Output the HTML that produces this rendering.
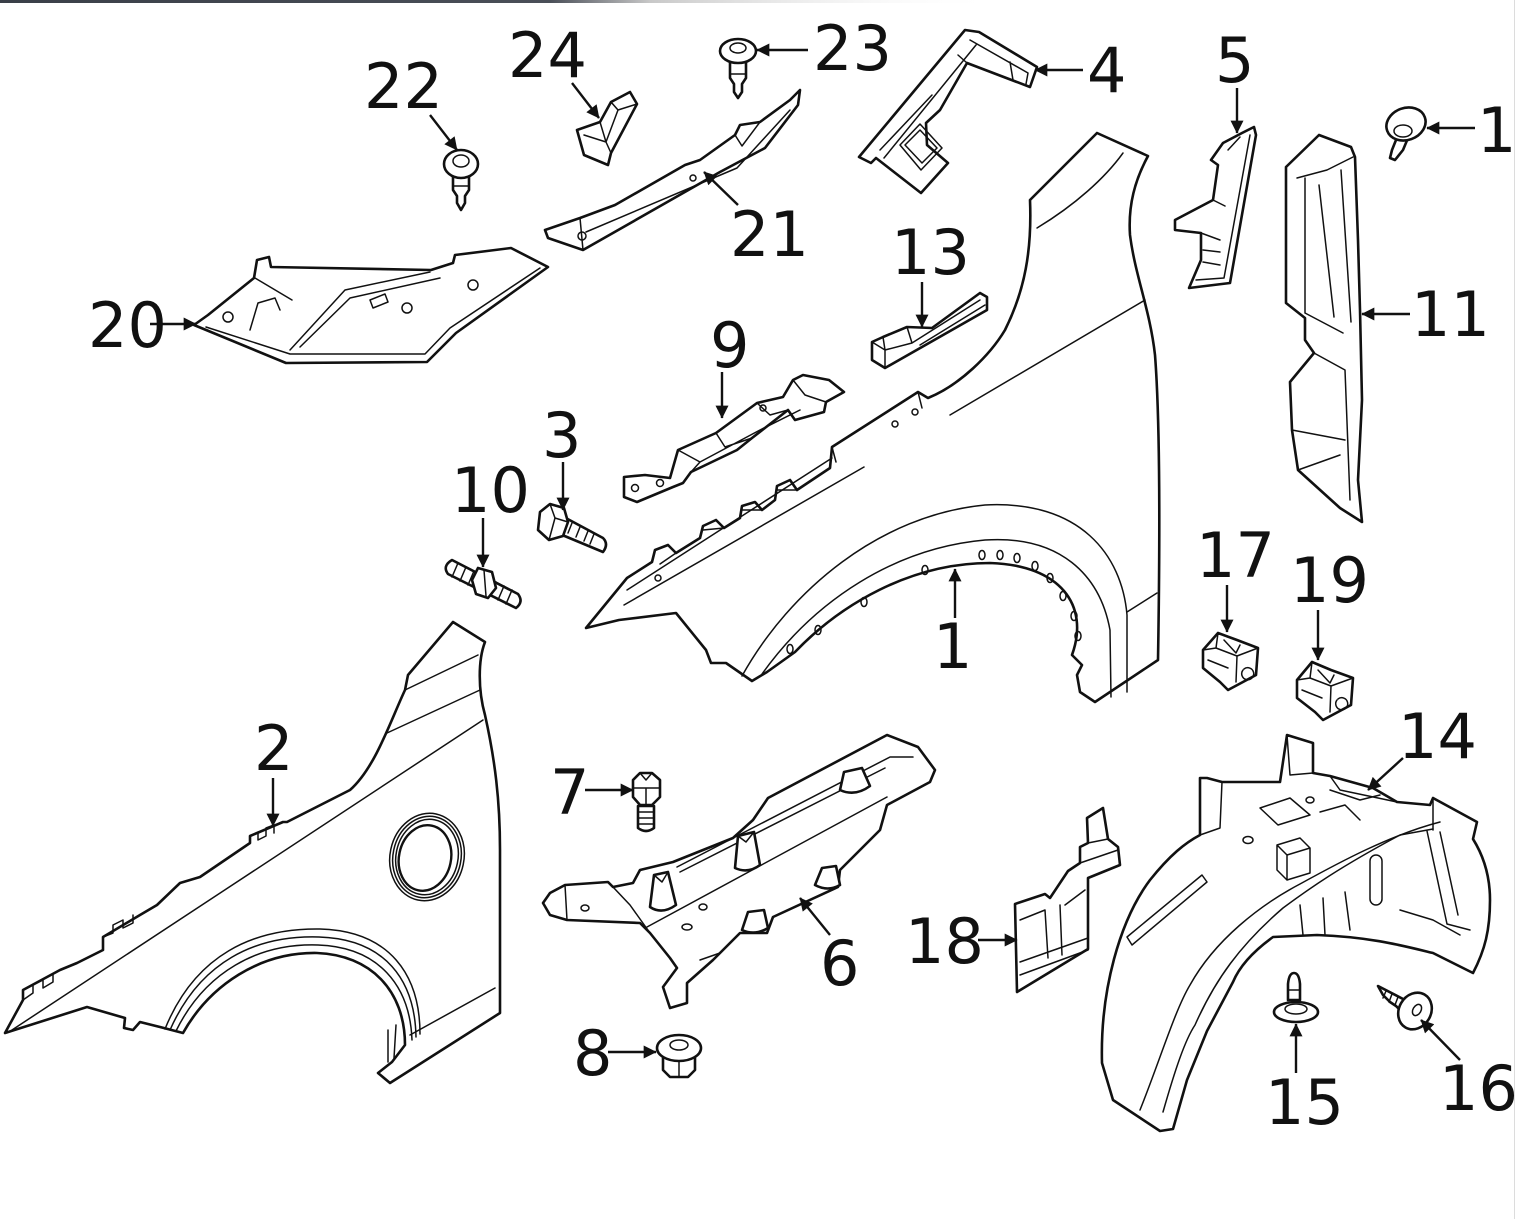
<!DOCTYPE html>
<html>
<head>
<meta charset="utf-8">
<style>
html,body{margin:0;padding:0;background:#fff;}
body{width:1516px;height:1219px;overflow:hidden;position:relative;}
svg{position:absolute;left:0;top:0;}
.o{fill:#fff;stroke:#111;stroke-width:2.6;stroke-linejoin:round;stroke-linecap:round;}
.t{fill:none;stroke:#111;stroke-width:1.5;stroke-linejoin:round;stroke-linecap:round;}
.n{fill:none;stroke:#111;stroke-width:2.4;stroke-linejoin:round;stroke-linecap:round;}
.a{stroke:#111;stroke-width:2.4;fill:none;}
text{font-family:"DejaVu Sans","Liberation Sans",sans-serif;font-size:62px;fill:#111;}
</style>
</head>
<body>
<svg width="1516" height="1219" viewBox="0 0 1516 1219" xmlns="http://www.w3.org/2000/svg">
<defs>
<linearGradient id="tb" x1="0" x2="1" y1="0" y2="0">
<stop offset="0" stop-color="#3a3f48"/>
<stop offset="0.55" stop-color="#4a4f58"/>
<stop offset="0.65" stop-color="#c8c8c8"/>
<stop offset="1" stop-color="#ffffff" stop-opacity="0"/>
</linearGradient>
<marker id="ah" viewBox="0 0 10 10" refX="9.5" refY="5" markerUnits="userSpaceOnUse" markerWidth="15" markerHeight="13" orient="auto">
<path d="M0,0 L10,5 L0,10 z" fill="#111"/>
</marker>
</defs>
<rect x="0" y="0" width="1516" height="1219" fill="#fff"/>
<rect x="0" y="0" width="1000" height="3" fill="url(#tb)"/>
<line x1="1514.5" y1="0" x2="1514.5" y2="1219" stroke="#dcdcdc" stroke-width="1"/>

<!-- PART 20 -->
<path class="o" d="M194,325 L208,315 L254,278 L257,260 L269,257 L271,267 L431,270 L453,263 L455,255 L511,248 L548,267 L456,333 L427,362 L286,363 Z"/>
<path class="t" d="M206,327 L290,354 L425,354 L450,328 L540,268"/>
<path class="t" d="M290,350 L345,290 L430,272"/>
<path class="t" d="M300,347 L350,298 L440,278"/>
<path class="t" d="M250,330 L258,303 L275,298 L280,310"/>
<path class="t" d="M255,278 L292,300"/>
<ellipse class="t" cx="228" cy="317" rx="5" ry="5"/>
<ellipse class="t" cx="407" cy="308" rx="5" ry="5"/>
<ellipse class="t" cx="473" cy="285" rx="5" ry="5"/>
<path class="t" d="M370,300 L385,294 L388,302 L373,308 Z"/>

<!-- PART 21 -->
<path class="o" d="M545,230 L580,218 L615,205 L685,165 L700,160 L735,135 L740,125 L760,122 L790,100 L800,90 L798,105 L765,148 L720,172 L583,250 L548,238 Z"/>
<path class="t" d="M586,232 L737,168 L790,110"/>
<path class="t" d="M580,218 L583,250"/>
<path class="t" d="M735,135 L742,146 L760,122"/>
<ellipse class="t" cx="582" cy="236" rx="4" ry="4"/>
<ellipse class="t" cx="693" cy="178" rx="3" ry="3"/>

<!-- PART 24 -->
<path class="o" d="M577,130 L600,122 L611,102 L630,92 L637,104 L611,153 L608,165 L584,155 Z"/>
<path class="t" d="M584,135 L606,142 L611,153 M600,122 L606,142 M611,102 L618,110 L606,142 M618,110 L637,104"/>

<!-- PART 22 pin -->
<path class="o" d="M453,176 L453,190 L457,196 L457,203 L461,210 L465,203 L465,196 L469,190 L469,176 Z"/>
<ellipse class="o" cx="461" cy="164" rx="17" ry="14"/>
<ellipse class="t" cx="461" cy="161" rx="8" ry="6"/>
<path class="t" d="M453,186 L469,186"/>

<!-- PART 23 pin -->
<path class="o" d="M730,60 L730,78 L734,84 L734,92 L738,98 L742,92 L742,84 L746,78 L746,60 Z"/>
<ellipse class="o" cx="738" cy="51" rx="18" ry="12"/>
<ellipse class="t" cx="738" cy="48" rx="8" ry="5"/>
<path class="t" d="M730,74 L746,74"/>

<!-- PART 4 -->
<path class="o" d="M965,30 L979,32 L1037,67 L1030,87 L967,63 L940,110 L926,123 L927,145 L948,163 L921,193 L876,158 L871,163 L859,157 Z"/>
<path class="t" d="M970,40 L1028,73 L1026,84 M976,45 L884,158 M967,63 L958,55 M1010,62 L1013,80"/>
<path class="t" d="M905,145 L920,130 L937,148 L922,163 Z M900,145 L920,124 L942,148 L921,170 Z"/>
<path class="t" d="M880,150 L932,95"/>

<!-- PART 5 -->
<path class="o" d="M1242,133 L1254,127 L1256,135 L1230,283 L1189,288 L1201,260 L1201,233 L1175,230 L1175,220 L1213,200 L1218,165 L1211,160 L1223,143 Z"/>
<path class="t" d="M1250,135 L1224,278 M1228,150 L1240,137 M1213,200 L1225,206 M1201,233 L1220,240 M1203,250 L1220,252 M1203,262 L1220,265 M1196,280 L1224,278"/>

<!-- small clip 1 (top right) -->
<path class="o" d="M1398,135 L1392,150 L1390,158 L1395,160 L1403,150 L1408,138 Z"/>
<ellipse class="o" cx="1406" cy="124" rx="20" ry="16" transform="rotate(-20 1406 124)"/>
<ellipse class="t" cx="1403" cy="131" rx="9" ry="6"/>

<!-- PART 11 -->
<path class="o" d="M1319,135 L1351,147 L1355,157 L1358,240 L1360,310 L1362,400 L1358,480 L1362,522 L1340,508 L1298,470 L1292,430 L1290,382 L1314,353 L1305,340 L1305,318 L1286,303 L1286,167 Z"/>
<path class="t" d="M1297,178 L1327,170 L1353,157 M1305,178 L1305,313 M1319,185 L1334,317 M1341,170 L1351,322 M1305,313 L1343,333 M1314,353 L1345,370 L1350,500 M1292,430 L1345,440 M1298,470 L1340,455"/>

<!-- PART 13 -->
<path class="o" d="M872,342 L883,337 L907,327 L932,328 L980,293 L987,297 L987,310 L885,368 L872,360 Z"/>
<path class="t" d="M883,337 L885,350 L885,368 M872,342 L885,350 M907,327 L912,343 L980,300 M912,343 L885,350 M920,345 L985,305"/>

<!-- PART 1 (big fender) -->
<path class="o" d="M586,628 L627,578 L652,562 L655,550 L668,545 L676,553 L700,538 L703,526 L716,520 L724,528 L740,518 L742,506 L755,502 L762,510 L775,500 L777,486 L790,480 L797,490 L830,468 L832,447 L918,392 L928,398 C960,385 990,355 1005,330 C1025,290 1032,250 1030,200 L1097,133 L1148,156 C1135,180 1128,205 1130,235 C1135,275 1150,310 1155,355 C1160,420 1160,540 1158,660 L1095,702 L1080,692 L1077,675 L1082,665 L1072,655 C1090,605 1060,565 990,563 C910,563 840,605 795,652 L767,672 L752,681 L726,663 L711,663 L706,650 L676,613 L619,620 Z"/>
<path class="t" d="M627,590 L832,458 M832,447 L836,462 M918,392 L922,408"/>
<path class="t" d="M624,605 L864,467"/>
<path class="t" d="M950,415 L1145,300"/>
<path class="t" d="M1037,228 C1075,205 1105,178 1123,153"/>
<path class="t" d="M742,676 C790,590 880,515 985,505 C1080,500 1122,555 1127,615 L1127,692"/>
<path class="t" d="M762,674 C815,600 895,548 985,540 C1060,535 1100,575 1110,630 L1111,697"/>
<path class="t" d="M1127,612 L1157,593"/>
<path class="t" d="M660,564 L676,553 M703,530 L724,528 M742,510 L762,510 M777,490 L797,490"/>
<g class="t">
<ellipse cx="790" cy="649" rx="3" ry="4.5"/>
<ellipse cx="818" cy="630" rx="3" ry="4.5"/>
<ellipse cx="864" cy="602" rx="3" ry="4.5"/>
<ellipse cx="925" cy="570" rx="3" ry="4.5"/>
<ellipse cx="982" cy="555" rx="3" ry="4.5"/>
<ellipse cx="1000" cy="555" rx="3" ry="4.5"/>
<ellipse cx="1017" cy="558" rx="3" ry="4.5"/>
<ellipse cx="1035" cy="566" rx="3" ry="4.5"/>
<ellipse cx="1050" cy="578" rx="3" ry="4.5"/>
<ellipse cx="1063" cy="596" rx="3" ry="4.5"/>
<ellipse cx="1074" cy="616" rx="3" ry="4.5"/>
<ellipse cx="1078" cy="636" rx="3" ry="4.5"/>
<ellipse cx="658" cy="578" rx="3" ry="3"/>
<ellipse cx="915" cy="412" rx="3" ry="3"/>
<ellipse cx="895" cy="424" rx="3" ry="3"/>
</g>

<!-- PART 9 -->
<path class="o" d="M624,477 L645,475 L670,478 L678,450 L716,433 L757,403 L783,397 L793,380 L803,375 L829,380 L844,392 L826,402 L824,412 L795,420 L788,410 L752,438 L737,450 L691,472 L683,483 L673,487 L637,502 L624,497 Z"/>
<path class="t" d="M678,450 L700,462 L691,472 M716,433 L725,447 L752,438 M757,403 L770,415 L788,410 M793,380 L805,395 L826,402 M700,462 L760,430 L800,410"/>
<ellipse class="t" cx="635" cy="488" rx="3.5" ry="3.5"/>
<ellipse class="t" cx="660" cy="483" rx="3.5" ry="3.5"/>
<ellipse class="t" cx="763" cy="408" rx="3" ry="3"/>

<!-- PART 3 bolt -->
<path class="o" d="M562,516 L603,538 Q609,544 603,552 L555,532 Z"/>
<path class="t" d="M572,523 L568,533 M580,527 L576,537 M588,531 L584,541 M594,534 L590,544"/>
<path class="o" d="M540,512 L550,504 L564,508 L568,522 L563,536 L549,540 L538,530 Z"/>
<path class="t" d="M550,504 L555,518 L549,540 M555,518 L568,522"/>

<!-- PART 10 stud -->
<path class="o" d="M452,560 L518,594 Q524,602 516,608 L448,574 Q442,566 452,560 Z"/>
<path class="t" d="M458,563 L452,577 M466,567 L460,581 M474,571 L468,585 M496,582 L490,596 M504,586 L498,600 M512,590 L506,604"/>
<path class="o" d="M478,568 L492,572 L496,588 L488,598 L476,594 L472,580 Z"/>
<path class="t" d="M484,570 L486,596"/>

<!-- PART 2 (lower-left fender) -->
<path class="o" d="M5,1033 L23,1000 L23,990 L60,970 L77,963 L103,950 L103,937 L140,915 L157,905 L180,883 L200,877 L250,843 L250,836 L283,822 L287,822 L350,790 C375,768 390,722 405,690 L408,675 L453,622 L485,642 C478,660 478,690 485,715 C495,760 500,800 500,850 L500,1013 L390,1083 L378,1073 L392,1062 L405,1045 C405,990 370,955 317,953 C260,952 210,985 183,1033 L160,1027 L140,1022 L133,1030 L124,1028 L125,1018 L87,1007 Z"/>
<path class="t" d="M12,1030 L483,720"/>
<path class="t" d="M405,690 L478,655 M387,733 L480,690"/>
<path class="t" d="M410,1035 L495,988"/>
<path class="t" d="M23,1000 L33,993 L33,985 L43,980 L43,988 L53,982 L53,974 M103,937 L113,933 L113,925 L123,920 L123,928 L133,923 L133,915 M250,836 L258,832 L258,840 L266,836 L266,828 L274,825 L274,833"/>
<path class="t" d="M176,1031 C205,972 258,943 318,945 C378,947 410,985 412,1040"/>
<path class="t" d="M170,1030 C200,962 255,935 319,937 C385,939 415,980 416,1037"/>
<path class="t" d="M165,1029 C195,955 253,928 320,929 C390,931 420,975 420,1034"/>
<path class="t" d="M388,1062 L388,1030 M394,1058 L396,1025"/>
<ellipse class="t" cx="427" cy="857" rx="37" ry="44" transform="rotate(12 427 857)"/>
<ellipse class="t" cx="427" cy="857" rx="34" ry="41" transform="rotate(12 427 857)"/>
<ellipse class="t" cx="427" cy="857" rx="31" ry="38" transform="rotate(12 427 857)"/>
<ellipse class="n" cx="425" cy="858" rx="26" ry="33" transform="rotate(12 425 858)"/>

<!-- PART 6 -->
<path class="o" d="M543,903 L550,893 L565,885 L608,882 L613,887 L633,883 L640,870 L673,862 L733,838 L753,820 L768,798 L887,735 L918,747 L935,770 L930,782 L887,805 L880,830 L840,870 L838,887 L773,917 L767,933 L740,933 L720,953 L713,960 L687,983 L687,1003 L670,1008 L663,987 L677,968 L670,958 L650,933 L640,923 L567,920 L550,915 Z"/>
<path class="t" d="M677,867 L890,757 L913,757 M680,872 L885,768 M647,927 L887,797 M565,885 L567,920 M613,887 L630,905 L650,933 M700,960 L720,953"/>
<path class="o" d="M650,907 L654,875 L668,872 L676,905 Q662,915 650,907 Z"/>
<path class="t" d="M654,875 L662,882 L668,872"/>
<path class="o" d="M735,868 L738,836 L754,832 L760,865 Q748,874 735,868 Z"/>
<path class="t" d="M738,836 L746,842 L754,832"/>
<path class="o" d="M840,790 L844,772 L862,768 L870,786 Q855,797 840,790 Z"/>
<path class="o" d="M815,885 L822,868 L836,866 L840,885 Q828,892 815,885 Z"/>
<path class="o" d="M742,930 L748,912 L764,910 L768,928 Q755,936 742,930 Z"/>
<ellipse class="t" cx="585" cy="908" rx="4" ry="3"/>
<ellipse class="t" cx="687" cy="927" rx="5" ry="3"/>
<ellipse class="t" cx="703" cy="907" rx="4" ry="3"/>

<!-- PART 7 bolt -->
<path class="o" d="M638,806 L638,828 Q646,834 654,828 L654,806 Z"/>
<path class="t" d="M638,812 L654,812 M638,818 L654,818 M638,824 L654,824"/>
<path class="o" d="M633,780 L640,773 L652,773 L660,780 L660,797 L652,805 L640,805 L633,797 Z"/>
<path class="t" d="M633,788 L660,788 M646,788 L646,805 M640,773 L646,780 L652,773"/>

<!-- PART 8 nut -->
<path class="o" d="M663,1055 L663,1070 L670,1077 L688,1077 L695,1070 L695,1055 Z"/>
<path class="t" d="M679,1060 L679,1077"/>
<ellipse class="o" cx="679" cy="1048" rx="22" ry="13"/>
<ellipse class="t" cx="679" cy="1045" rx="9" ry="5"/>

<!-- PART 17 clip -->
<path class="o" d="M1203,650 L1218,633 L1237,640 L1258,648 L1256,675 L1228,690 L1220,682 L1203,668 Z"/>
<path class="t" d="M1218,633 L1216,648 L1203,650 M1216,648 L1237,656 L1258,648 M1237,656 L1236,682 M1224,640 L1236,653 L1240,645 M1208,660 L1228,668 M1243,670 A6 6 0 1 0 1244,669"/>
<!-- PART 19 clip -->
<path class="o" d="M1297,680 L1312,662 L1331,670 L1353,678 L1351,705 L1323,720 L1315,712 L1297,698 Z"/>
<path class="t" d="M1312,662 L1310,678 L1297,680 M1310,678 L1331,686 L1353,678 M1331,686 L1330,712 M1318,670 L1330,683 L1334,675 M1302,690 L1322,698 M1337,700 A6 6 0 1 0 1338,699"/>

<!-- PART 18 -->
<path class="o" d="M1017,992 L1015,904 L1045,894 L1050,898 L1068,871 L1080,863 L1080,847 L1088,843 L1087,818 L1103,808 L1108,839 L1118,847 L1120,865 L1088,878 L1088,949 Z"/>
<path class="t" d="M1020,920 L1045,910 L1048,958 M1060,905 L1062,955 M1065,905 L1085,890 M1020,975 L1088,950 M1020,962 L1088,938 M1088,843 L1108,839 M1080,863 L1118,850"/>

<!-- PART 14 liner -->
<path class="o" d="M1102,1063 C1100,990 1120,920 1150,880 C1170,855 1185,843 1200,835 L1200,778 L1207,778 L1222,782 L1280,782 L1287,735 L1313,743 L1313,773 L1330,776 L1373,788 L1397,802 L1430,805 L1433,798 L1477,822 L1473,839 C1483,855 1490,875 1490,900 C1490,930 1485,950 1473,973 L1433,953 C1400,945 1370,937 1317,935 L1273,937 C1255,950 1240,965 1233,982 L1207,1031 L1187,1080 L1173,1129 L1160,1131 L1113,1100 Z"/>
<path class="t" d="M1140,1110 C1160,1060 1175,1010 1190,985 C1215,940 1260,905 1300,884 C1340,862 1390,835 1440,822"/>
<path class="t" d="M1163,1112 C1175,1070 1185,1040 1195,1025 C1215,980 1240,945 1283,908 C1310,888 1340,867 1400,835 L1433,829"/>
<path class="t" d="M1200,835 L1220,828 L1222,782 M1287,735 L1290,775 L1313,773 M1330,776 L1340,790 L1397,802 M1433,798 L1433,830"/>
<path class="t" d="M1127,937 L1202,875 L1207,882 L1132,945 Z"/>
<path class="t" d="M1277,845 L1300,838 L1310,848 L1310,873 L1287,880 L1277,870 Z M1277,845 L1287,855 L1287,880 M1287,855 L1310,848"/>
<path class="t" d="M1260,808 L1290,798 L1310,815 L1278,825 Z"/>
<path class="t" d="M1320,812 L1345,805 L1360,820 M1330,790 L1360,800 L1380,795"/>
<rect class="t" x="1370" y="855" width="12" height="50" rx="6"/>
<path class="t" d="M1427,831 L1447,924 L1470,930 M1440,832 L1458,915 M1400,910 L1433,920 L1460,935"/>
<path class="t" d="M1323,898 L1325,935 M1345,892 L1350,930 M1300,905 L1303,935"/>
<ellipse class="t" cx="1310" cy="800" rx="4" ry="3"/>
<ellipse class="t" cx="1248" cy="840" rx="5" ry="3.5"/>

<!-- PART 15 push pin -->
<path class="o" d="M1288,1000 L1288,984 Q1289,973 1294,973 Q1299,973 1300,984 L1300,1000 Z"/>
<path class="t" d="M1288,990 L1300,990"/>
<ellipse class="o" cx="1296" cy="1012" rx="22" ry="10"/>
<ellipse class="t" cx="1296" cy="1009" rx="11" ry="5"/>

<!-- PART 16 screw -->
<path class="o" d="M1378,986 L1405,1000 L1400,1010 L1396,1006 L1390,1002 L1383,995 Z"/>
<path class="t" d="M1386,991 L1383,998 M1392,994 L1389,1002 M1398,997 L1395,1005"/>
<ellipse class="o" cx="1415" cy="1011" rx="16" ry="19" transform="rotate(30 1415 1011)"/>
<ellipse class="t" cx="1417" cy="1010" rx="4" ry="6" transform="rotate(30 1417 1010)"/>

<!-- ARROWS -->
<g class="a">
<line x1="430" y1="115" x2="457" y2="150" marker-end="url(#ah)"/>
<line x1="572" y1="83" x2="599" y2="118" marker-end="url(#ah)"/>
<line x1="808" y1="50" x2="757" y2="50" marker-end="url(#ah)"/>
<line x1="1083" y1="70" x2="1035" y2="70" marker-end="url(#ah)"/>
<line x1="1237" y1="88" x2="1237" y2="133" marker-end="url(#ah)"/>
<line x1="1475" y1="128" x2="1427" y2="128" marker-end="url(#ah)"/>
<line x1="1410" y1="314" x2="1362" y2="314" marker-end="url(#ah)"/>
<line x1="922" y1="282" x2="922" y2="327" marker-end="url(#ah)"/>
<line x1="738" y1="205" x2="704" y2="172" marker-end="url(#ah)"/>
<line x1="150" y1="324" x2="196" y2="324" marker-end="url(#ah)"/>
<line x1="722" y1="372" x2="722" y2="418" marker-end="url(#ah)"/>
<line x1="563" y1="462" x2="563" y2="510" marker-end="url(#ah)"/>
<line x1="483" y1="518" x2="483" y2="567" marker-end="url(#ah)"/>
<line x1="955" y1="618" x2="955" y2="569" marker-end="url(#ah)"/>
<line x1="1227" y1="585" x2="1227" y2="632" marker-end="url(#ah)"/>
<line x1="1318" y1="610" x2="1318" y2="660" marker-end="url(#ah)"/>
<line x1="1403" y1="758" x2="1368" y2="790" marker-end="url(#ah)"/>
<line x1="273" y1="778" x2="273" y2="826" marker-end="url(#ah)"/>
<line x1="585" y1="790" x2="633" y2="790" marker-end="url(#ah)"/>
<line x1="830" y1="935" x2="800" y2="898" marker-end="url(#ah)"/>
<line x1="978" y1="940" x2="1017" y2="940" marker-end="url(#ah)"/>
<line x1="608" y1="1052" x2="656" y2="1052" marker-end="url(#ah)"/>
<line x1="1296" y1="1073" x2="1296" y2="1024" marker-end="url(#ah)"/>
<line x1="1460" y1="1060" x2="1421" y2="1020" marker-end="url(#ah)"/>
</g>

<!-- LABELS -->
<text x="364" y="108">22</text>
<text x="508" y="77">24</text>
<text x="813" y="70">23</text>
<text x="1087" y="92">4</text>
<text x="1215" y="82">5</text>
<text x="1477" y="152">1</text>
<text x="1411" y="336">11</text>
<text x="891" y="274">13</text>
<text x="730" y="256">21</text>
<text x="88" y="347">20</text>
<text x="710" y="367">9</text>
<text x="542" y="457">3</text>
<text x="451" y="512">10</text>
<text x="933" y="668">1</text>
<text x="1196" y="577">17</text>
<text x="1290" y="602">19</text>
<text x="1398" y="758">14</text>
<text x="254" y="770">2</text>
<text x="550" y="814">7</text>
<text x="820" y="985">6</text>
<text x="905" y="963">18</text>
<text x="573" y="1075">8</text>
<text x="1265" y="1124">15</text>
<text x="1439" y="1110">16</text>
</svg>
</body>
</html>
